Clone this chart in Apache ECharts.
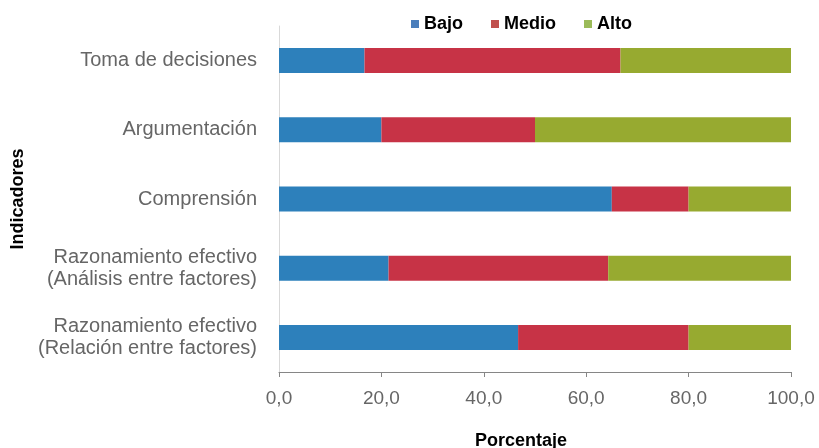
<!DOCTYPE html>
<html>
<head>
<meta charset="utf-8">
<script src="https://cdn.jsdelivr.net/npm/echarts@6/dist/echarts.min.js"></script>
<style>
html,body{margin:0;padding:0;background:#fff;}
#chart{width:819px;height:448px;}
</style>
</head>
<body>
<div id="chart"></div>
<script>
const categories = [
  'Toma de decisiones',
  'Argumentación',
  'Comprensión',
  'Razonamiento efectivo\n(Análisis entre factores)',
  'Razonamiento efectivo\n(Relación entre factores)'
];
const seriesNames = ['Bajo', 'Medio', 'Alto'];
const bajo = [16.7, 20.0, 65.0, 21.4, 46.7];
const medio = [50.0, 30.0, 15.0, 42.9, 33.3];
const alto = [33.3, 50.0, 20.0, 35.7, 20.0];
const tickLabels = ['0,0', '20,0', '40,0', '60,0', '80,0', '100,0'];
const colors = ['#2d80bb', '#c73346', '#97aa30'];
const legendColors = ['#4a7ebb', '#c0504d', '#9bbb59'];
const values = [bajo, medio, alto];

const chart = echarts.init(document.getElementById('chart'), null, {renderer: 'canvas'});
const font = 'Liberation Sans, Arial, sans-serif';
chart.setOption({
  animation: false,
  textStyle: {fontFamily: font},
  legend: {
    left: 406,
    top: 10,
    itemWidth: 8,
    itemHeight: 8,
    itemGap: 28,
    icon: 'rect',
    textStyle: {fontSize: 18, fontWeight: 'bold', color: '#000', fontFamily: font},
    data: seriesNames.map((n, i) => ({name: n, itemStyle: {color: legendColors[i]}}))
  },
  grid: {left: 279, right: 28, top: 26, bottom: 76, containLabel: false, outerBoundsMode: 'none'},
  xAxis: {
    type: 'value',
    min: 0,
    max: 100,
    interval: 20,
    name: 'Porcentaje',
    nameLocation: 'middle',
    nameGap: 60,
    nameTextStyle: {fontSize: 18, fontWeight: 'bold', color: '#000', fontFamily: font, padding: [0, 28, 0, 0]},
    axisLine: {show: true, lineStyle: {color: '#868686', width: 1}},
    axisTick: {show: true, length: 5, lineStyle: {color: '#868686'}},
    splitLine: {show: false},
    axisLabel: {
      fontSize: 19,
      color: '#666',
      margin: 17,
      fontFamily: font,
      formatter: v => tickLabels[Math.round(v / 20)]
    }
  },
  yAxis: {
    type: 'category',
    inverse: true,
    data: categories,
    name: 'Indicadores',
    nameLocation: 'middle',
    nameGap: 247,
    nameTextStyle: {fontSize: 18, fontWeight: 'bold', color: '#000', fontFamily: font},
    axisLine: {show: true, lineStyle: {color: '#d9d9d9', width: 1}},
    axisTick: {show: false},
    axisLabel: {fontSize: 20, color: '#666', margin: 22, lineHeight: 22, fontFamily: font, align: 'right'}
  },
  series: seriesNames.map((n, i) => ({
    name: n,
    type: 'bar',
    stack: 'total',
    barWidth: 25,
    itemStyle: {color: colors[i]},
    data: values[i]
  }))
});
</script>
</body>
</html>
